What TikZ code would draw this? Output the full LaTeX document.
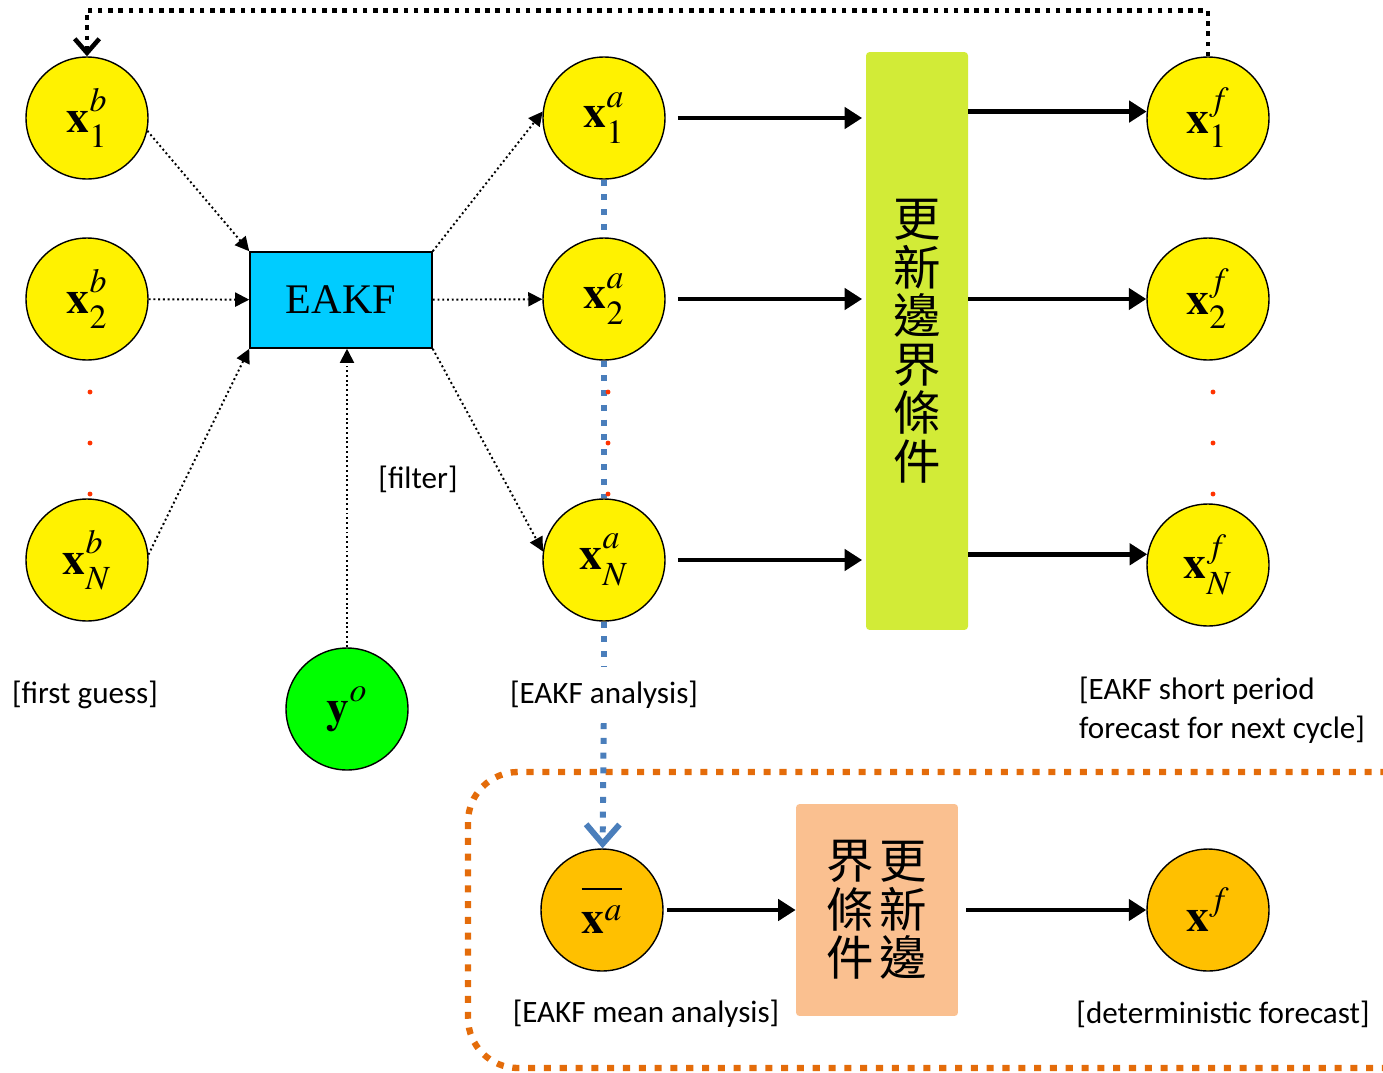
\documentclass[tikz,border=0pt]{standalone}
\usepackage{mathptmx}
\usepackage{fontspec}
\setmainfont{Liberation Serif}
\newfontfamily\lblfont{Carlito}
\newfontfamily\cjk{Noto Sans CJK TC}
\usetikzlibrary{arrows.meta}
\definecolor{eakfcyan}{HTML}{00CCFF}
\definecolor{bcgreen}{HTML}{D2EB37}
\definecolor{obsgreen}{HTML}{00FF00}
\definecolor{meangold}{HTML}{FFC000}
\definecolor{bcpeach}{HTML}{FAC090}
\definecolor{frameorange}{HTML}{E46C0A}
\definecolor{blueln}{HTML}{4A7EBB}
\definecolor{reddot}{HTML}{FF3300}
% member label: bold x, raised superscript, lowered subscript
\newcommand{\mem}[3]{$\mathbf{#1}^{\raisebox{2.5pt}{$\scriptstyle #2$}}_{\raisebox{-2.5pt}{$\scriptstyle #3$}}$}
\begin{document}
\begin{tikzpicture}[x=0.02cm, y=-0.02cm,
    ens/.style={circle, draw, line width=0.8pt, fill=yellow, minimum size=2.44cm, inner sep=0pt, font=\fontsize{26}{28}\selectfont},
    obs/.style={ens, fill=obsgreen},
    meanc/.style={ens, fill=meangold},
    filt/.style={draw, line width=0.9pt, fill=eakfcyan, minimum width=3.64cm, minimum height=1.92cm, font=\fontsize{24}{26}\selectfont},
    bcbox/.style={fill=bcgreen, rounded corners=2pt, align=center, inner sep=0pt, font=\cjk\fontsize{27}{27.6}\selectfont},
    lbl/.style={font=\lblfont\fontsize{17.7}{22}\selectfont, inner sep=1pt},
    thinarrow/.style={line width=1.1pt, dash pattern=on 1.1pt off 1.6pt, -{Triangle[length=8pt,width=8pt]}},
    bigarrow/.style={line width=2.8pt, -{Triangle[length=10pt,width=12pt]}},
    fbline/.style={line width=2.6pt, dash pattern=on 2.6pt off 3.2pt, -{Straight Barb[length=8pt,width=14pt]}},
    blueline/.style={blueln, line width=3.4pt, dash pattern=on 3.4pt off 5pt},
    meanframe/.style={frameorange, line width=3.6pt, dash pattern=on 4pt off 5pt, rounded corners=1cm}]
    \useasboundingbox (0,0) rectangle (1383,1072);

    % deterministic part
    \draw[meanframe] (468,772) rectangle (1440,1068);

    \node[ens] (xb1) at (87,118) {\mem{x}{b}{1}};
    \node[ens] (xb2) at (87,299) {\mem{x}{b}{2}};
    \node[ens] (xbN) at (87,560) {\mem{x}{b}{N}};
    \node[obs] (yo) at (347,709) {$\mathbf{y}^{\raisebox{2.5pt}{$\scriptstyle o$}}$};
    \node[filt] (eakf) at (341,300) {EAKF};
    \node[ens] (xa1) at (604,118) {\mem{x}{a}{1}};
    \node[ens] (xa2) at (604,299) {\mem{x}{a}{2}};
    \node[ens] (xaN) at (604,560) {\mem{x}{a}{N}};
    \node[bcbox, minimum width=2.04cm, minimum height=11.56cm] (bc) at (917,341) {更\\新\\邊\\界\\條\\件};
    \node[ens] (xf1) at (1208,118) {\mem{x}{f}{1}};
    \node[ens] (xf2) at (1208,299) {\mem{x}{f}{2}};
    \node[ens] (xfN) at (1208,565) {\mem{x}{f}{N}};
    \node[meanc] (xm) at (602,910) {$\overline{\mathbf{x}^{a}\rule{0pt}{22pt}}$};
    \node[bcbox, fill=bcpeach, minimum width=3.24cm, minimum height=4.24cm] (bc2) at (877,910) {界\hspace{3pt}更\\條\hspace{3pt}新\\件\hspace{3pt}邊};
    \node[meanc] (xd) at (1208,910) {$\mathbf{x}^{\raisebox{2.5pt}{$\scriptstyle f$}}$};

    \node[lbl] (lfg) at (85,695) {[first guess]};
    \node[lbl] (lfilt) at (418,479) {[filter]};
    \node[lbl, inner ysep=8pt] (lana) at (604,695) {[EAKF analysis]};
    \node[lbl, align=left, anchor=west] (lfc) at (1077,710) {[EAKF short period\\forecast for next cycle]};
    \node[lbl] (lmean) at (646,1014) {[EAKF mean analysis]};
    \node[lbl] (ldet) at (1223,1014) {[deterministic forecast]};

    % ensemble mean
    \draw[blueline] (xa1) -- (xa2);
    \draw[blueline] (xa2) -- (xaN);
    \draw[blueline] (xaN) -- (lana);
    \draw[blueline, -{Straight Barb[length=11pt,width=19pt]}] (lana) -- (xm);

    \foreach \yy in {392,443,494} {
        \fill[reddot] (90,\yy) circle (1.4pt);
        \fill[reddot] (608,\yy) circle (1.4pt);
        \fill[reddot] (1213,\yy) circle (1.4pt);
    }

    \draw[thinarrow] (xb1.-12) -- (eakf.north west);
    \draw[thinarrow] (xb2) -- (eakf);
    \draw[thinarrow] (xbN.5) -- (eakf.south west);
    \draw[thinarrow] (yo) -- (yo.north |- eakf.south);
    \draw[thinarrow] (eakf.north east) -- (xa1.174);
    \draw[thinarrow] (eakf) -- (xa2);
    \draw[thinarrow] (eakf.south east) -- (xaN.172);

    \draw[bigarrow, shorten <=7pt, shorten >=2pt] (xa1.east) -- (xa1.east -| bc.west);
    \draw[bigarrow, shorten <=7pt, shorten >=2pt] (xa2.east) -- (xa2.east -| bc.west);
    \draw[bigarrow, shorten <=7pt, shorten >=2pt] (xaN.east) -- (xaN.east -| bc.west);
    \draw[bigarrow] (bc.east |- xf1.174) -- (xf1.174);
    \draw[bigarrow] (bc.east |- xf2.west) -- (xf2.west);
    \draw[bigarrow] (bc.east |- xfN.170) -- (xfN.170);
    \draw[bigarrow, shorten <=2pt] (xm.east) -- (xm.east -| bc2.west);
    \draw[bigarrow, shorten <=4.5pt] (bc2.east |- xd.west) -- (xd.west);

    % next cycle
    \draw[fbline] (xf1.north) -- ++(0,-46) -| (xb1.north);
\end{tikzpicture}
\end{document}
